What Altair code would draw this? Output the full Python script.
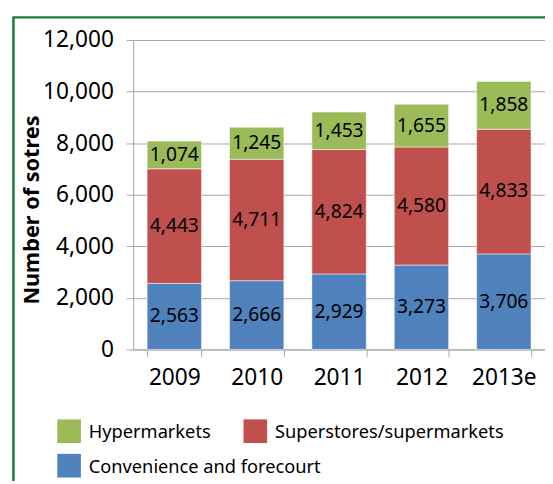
import altair as alt
import pandas as pd

years = ["2009", "2010", "2011", "2012", "2013e"]
convenience = [2563, 2666, 2929, 3273, 3706]
superstores = [4443, 4711, 4824, 4580, 4833]
hypermarkets = [1074, 1245, 1453, 1655, 1858]
categories = ["Hypermarkets", "Superstores/supermarkets", "Convenience and forecourt"]
colors = ["#9BBB59", "#C0504D", "#4F81BD"]
y_ticks = [0, 2000, 4000, 6000, 8000, 10000, 12000]

rows = []
for i, yr in enumerate(years):
    for cat, vals, order in [("Convenience and forecourt", convenience, 0),
                             ("Superstores/supermarkets", superstores, 1),
                             ("Hypermarkets", hypermarkets, 2)]:
        rows.append(dict(year=yr, category=cat, value=vals[i], order=order))
df = pd.DataFrame(rows)

FONT = "Noto Sans"
GRAY = "#A6A6A6"

base = alt.Chart(df).transform_stack(
    stack="value", as_=["y0", "y1"], groupby=["year"], sort=[alt.SortField("order")]
).transform_calculate(
    mid="(datum.y0 + datum.y1) / 2", label="format(datum.value, ',d')"
)

x_enc = alt.X(
    "year:N", sort=years, title=None,
    scale=alt.Scale(paddingInner=0.34, paddingOuter=0.17),
    axis=alt.Axis(labelAngle=0, labelFontSize=23, labelFont=FONT, labelColor="black",
                  labelPadding=11, tickBand="extent", tickSize=7, tickColor=GRAY,
                  domainColor=GRAY, grid=False),
)
y_enc = alt.Y(
    "y0:Q", scale=alt.Scale(domain=[0, 12000]),
    axis=alt.Axis(values=y_ticks, format=",d", title="Number of sotres",
                  labelFontSize=23, labelFont=FONT, labelColor="black", labelPadding=13,
                  tickSize=7, tickColor=GRAY, domainColor=GRAY, gridColor=GRAY,
                  titleFont=FONT, titleFontSize=22, titleFontWeight="bold", titleColor="black",
                  titleX=-103, titleY=172, titleAngle=270, titleAlign="center",
                  titleBaseline="middle"),
)

bars = base.mark_bar(stroke="white", strokeWidth=1, strokeOpacity=0.5).encode(
    x=x_enc,
    y=y_enc,
    y2="y1:Q",
    color=alt.Color("category:N", scale=alt.Scale(domain=categories, range=colors),
                    legend=None),
)

texts = base.mark_text(fontSize=19.5, font=FONT, color="black").encode(
    x=alt.X("year:N", sort=years),
    y=alt.Y("mid:Q"),
    text="label:N",
)

one = pd.DataFrame({"a": [0]})
frame_left = alt.Chart(one).mark_rule(color="#1A7A3A", strokeWidth=2.5).encode(
    x=alt.value(-121.5), y=alt.value(-23), y2=alt.value(470)
)
frame_top = alt.Chart(one).mark_rule(color="#1A7A3A", strokeWidth=2.5).encode(
    x=alt.value(-122.5), x2=alt.value(430), y=alt.value(-23)
)

# hand-made legend (Excel-style flow layout)
legend_slots = [(-65, 397), (124, 397), (-65, 432)]
legend_layers = []
for (lx, ly), lab, col in zip(legend_slots, categories, colors):
    sw = alt.Chart(one).mark_square(size=576, color=col, opacity=1, strokeWidth=0).encode(
        x=alt.value(lx), y=alt.value(ly)
    )
    tx = alt.Chart(one).mark_text(
        text=lab, font=FONT, fontSize=18.5, color="black", align="left", baseline="middle"
    ).encode(x=alt.value(lx + 20), y=alt.value(ly + 1))
    legend_layers += [sw, tx]

chart = alt.layer(bars, texts, frame_left, frame_top, *legend_layers).properties(
    width=418, height=314,
    padding={"left": 127, "top": 29, "right": 0, "bottom": 130},
    autosize="none",
).configure_view(stroke=None)

chart.save("out.html", embed_options={"renderer": "svg", "actions": False})
